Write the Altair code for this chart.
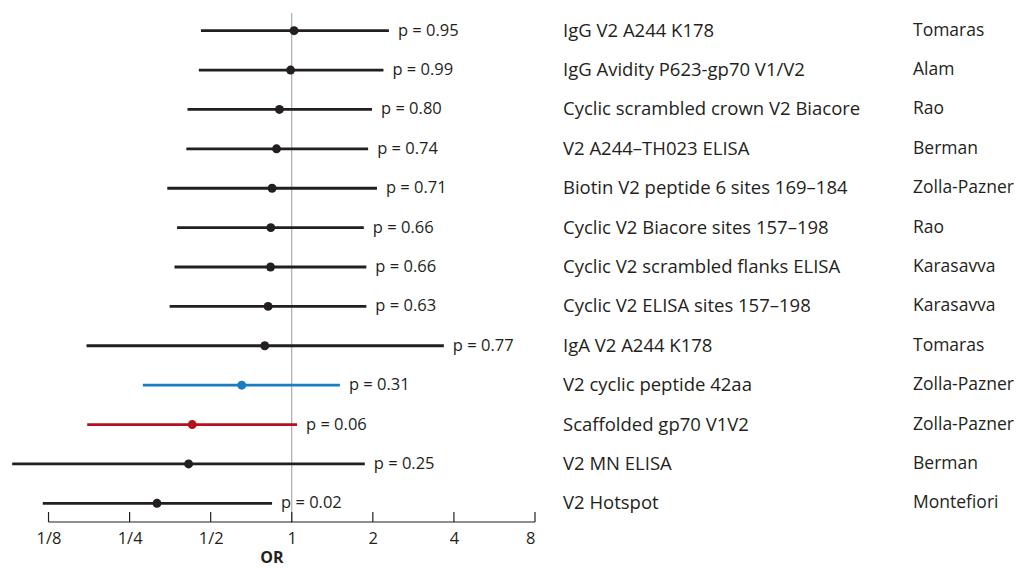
import altair as alt
import pandas as pd

assays = [
    "IgG V2 A244 K178", "IgG Avidity P623-gp70 V1/V2", "Cyclic scrambled crown V2 Biacore",
    "V2 A244–TH023 ELISA", "Biotin V2 peptide 6 sites 169–184", "Cyclic V2 Biacore sites 157–198",
    "Cyclic V2 scrambled flanks ELISA", "Cyclic V2 ELISA sites 157–198", "IgA V2 A244 K178",
    "V2 cyclic peptide 42aa", "Scaffolded gp70 V1V2", "V2 MN ELISA", "V2 Hotspot",
]
labs = [
    "Tomaras", "Alam", "Rao", "Berman", "Zolla-Pazner", "Rao", "Karasavva", "Karasavva",
    "Tomaras", "Zolla-Pazner", "Zolla-Pazner", "Berman", "Montefiori",
]
odds = [1.02, 0.99, 0.90, 0.878, 0.845, 0.836, 0.834, 0.817, 0.794, 0.652, 0.427, 0.414, 0.316]
lower = [0.460, 0.452, 0.410, 0.406, 0.345, 0.375, 0.367, 0.352, 0.173, 0.280, 0.174, 0.0916, 0.119]
upper = [2.294, 2.19, 1.986, 1.921, 2.072, 1.852, 1.892, 1.892, 3.67, 1.509, 1.046, 1.867, 0.845]
pvals = ["p = 0.95", "p = 0.99", "p = 0.80", "p = 0.74", "p = 0.71", "p = 0.66", "p = 0.66",
         "p = 0.63", "p = 0.77", "p = 0.31", "p = 0.06", "p = 0.25", "p = 0.02"]
colors = ["#231f20"] * 9 + ["#1a7dc2", "#b3121d", "#231f20", "#231f20"]

tick_values = [0.125, 0.25, 0.5, 1, 2, 4, 8]
tick_labels = ["1/8", "1/4", "1/2", "1", "2", "4", "8"]

df = pd.DataFrame({
    "assay": assays, "lab": labs, "or": odds, "lo": lower, "hi": upper,
    "p": pvals, "color": colors,
})
ticks_df = pd.DataFrame({"v": tick_values, "label": tick_labels})
axis_df = pd.DataFrame({"a": [tick_values[0]], "b": [tick_values[-1]]})
ref_df = pd.DataFrame({"v": [1]})

W = 527
H = 512
FONT = "Open Sans"
INK = "#231f20"

label_expr = "{" + ", ".join(f"'{v}': '{l}'" for v, l in zip(tick_values, tick_labels)) + "}[datum.value]"

xscale = alt.Scale(type="log", base=2, domain=[0.0884, 8], nice=False)
yscale = alt.Scale(type="point", domain=assays, padding=0.5)

base = alt.Chart(df)

x_axis = alt.Axis(values=tick_values, labelExpr=label_expr, ticks=False, domain=False, grid=False,
                  labelFontSize=16.5, labelFont=FONT, labelColor=INK, labelPadding=7,
                  title="OR", titleFont=FONT, titleFontSize=16, titleFontWeight="bold",
                  titleColor=INK, titlePadding=3)

ref = alt.Chart(ref_df).mark_rule(color="#9a9a9a", strokeWidth=1).encode(
    x=alt.X("v:Q", scale=xscale, axis=x_axis),
    y=alt.value(2), y2=alt.value(H),
)

baseline = alt.Chart(axis_df).mark_rule(color=INK, strokeWidth=1.2).encode(
    x=alt.X("a:Q", scale=xscale), x2="b:Q", y=alt.value(H - 1),
)
tick_marks = alt.Chart(ticks_df).mark_rule(color=INK, strokeWidth=1.2).encode(
    x=alt.X("v:Q", scale=xscale), y=alt.value(H - 11), y2=alt.value(H - 1),
)

bars = base.mark_rule(strokeWidth=2.8).encode(
    x=alt.X("lo:Q", scale=xscale),
    x2="hi:Q",
    y=alt.Y("assay:N", scale=yscale, axis=None),
    color=alt.Color("color:N", scale=None),
)
points = base.mark_circle(size=80, opacity=1).encode(
    x=alt.X("or:Q", scale=xscale),
    y=alt.Y("assay:N", scale=yscale, axis=None),
    color=alt.Color("color:N", scale=None),
)
ptext = base.mark_text(align="left", baseline="middle", dx=9, fontSize=16.5, font=FONT,
                       color=INK).encode(
    x=alt.X("hi:Q", scale=xscale),
    y=alt.Y("assay:N", scale=yscale, axis=None),
    text="p:N",
)
names = base.mark_text(align="left", baseline="middle", fontSize=18.5, font=FONT,
                       color=INK).encode(
    x=alt.value(555),
    y=alt.Y("assay:N", scale=yscale, axis=None),
    text="assay:N",
)
authors = base.mark_text(align="left", baseline="middle", fontSize=17.5, font=FONT,
                         color=INK).encode(
    x=alt.value(905),
    y=alt.Y("assay:N", scale=yscale, axis=None),
    text="lab:N",
)

chart = alt.layer(ref, baseline, tick_marks, bars, points, ptext, names, authors).properties(
    width=W, height=H,
    padding={"left": 0, "top": 3, "right": 0, "bottom": 3},
).configure(background="white").configure_view(stroke=None)

chart.save("out.html", embed_options={"renderer": "svg", "actions": False})
